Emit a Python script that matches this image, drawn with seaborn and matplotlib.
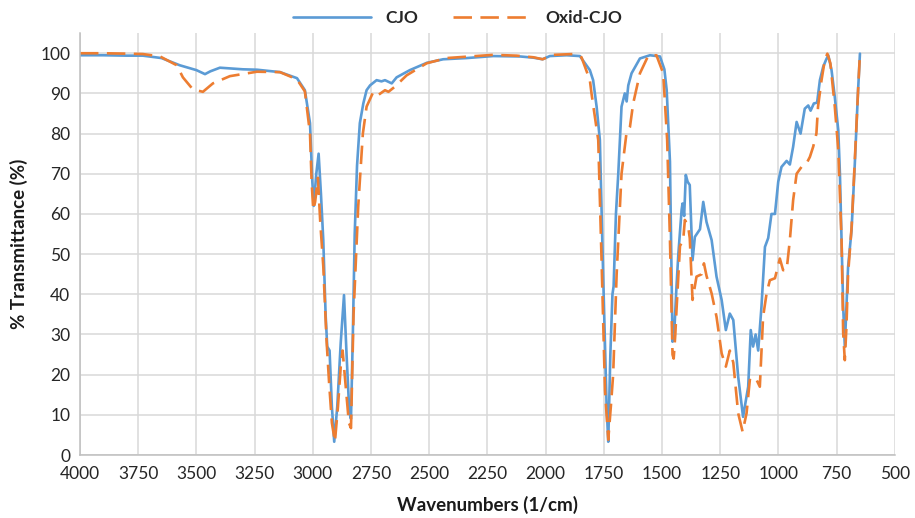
import pandas as pd
import numpy as np
import matplotlib
matplotlib.use("Agg")
import matplotlib.pyplot as plt
import seaborn as sns

# данные
cjo_wn = [4000, 3900, 3800, 3730, 3650, 3571, 3500, 3463, 3440, 3399, 3300, 3240,
          3141, 3068, 3034, 3012, 3002, 2996, 2985, 2975, 2965, 2955, 2945, 2938,
          2928, 2918, 2908, 2895, 2880, 2866, 2855, 2843, 2836, 2828, 2820, 2810,
          2798, 2783, 2769, 2754, 2726, 2705, 2690, 2661, 2640, 2583, 2511, 2440,
          2339, 2225, 2110, 2053, 2013, 1982, 1910, 1853, 1810, 1796, 1781, 1767,
          1753, 1738, 1731, 1722, 1713, 1708, 1698, 1688, 1674, 1660, 1652, 1645,
          1631, 1595, 1552, 1509, 1490, 1480, 1466, 1455, 1448, 1438, 1430, 1416,
          1412, 1405, 1398, 1390, 1381, 1369, 1359, 1337, 1323, 1309, 1287, 1266,
          1244, 1226, 1209, 1194, 1173, 1152, 1130, 1119, 1109, 1098, 1087, 1073,
          1058, 1044, 1030, 1015, 1001, 987, 965, 951, 937, 922, 905, 887, 872,
          862, 848, 834, 822, 808, 796, 786, 772, 758, 743, 736, 729, 722, 715,
          708, 701, 686, 672, 658, 650]
cjo_t = [99.5, 99.5, 99.4, 99.4, 98.8, 97.0, 95.8, 94.8, 95.5, 96.4, 96.0, 95.9,
         95.3, 93.8, 90.8, 82.6, 68.0, 62.0, 70.0, 75.0, 65.0, 53.5, 35.0, 27.0,
         26.0, 12.0, 3.3, 12.0, 28.0, 39.8, 25.0, 10.5, 9.0, 30.0, 55.0, 72.0,
         82.6, 87.5, 90.8, 92.0, 93.3, 93.0, 93.3, 92.5, 94.0, 95.8, 97.6, 98.5,
         98.8, 99.3, 99.2, 98.9, 98.5, 99.3, 99.5, 99.3, 95.8, 93.3, 86.7, 78.4,
         45.0, 12.0, 3.3, 25.0, 40.0, 42.0, 60.0, 70.0, 86.7, 90.0, 88.0, 92.0,
         95.0, 98.7, 99.5, 99.2, 96.0, 90.8, 73.0, 28.2, 30.0, 41.9, 50.0, 61.0,
         62.6, 59.5, 69.7, 68.0, 67.2, 48.5, 54.3, 56.2, 63.0, 58.0, 53.5, 44.4,
         38.6, 31.1, 35.2, 33.6, 19.5, 9.5, 17.0, 31.1, 27.0, 30.0, 26.0, 36.9,
         51.8, 54.0, 60.0, 60.0, 68.0, 71.7, 73.2, 72.3, 76.7, 82.9, 80.0, 86.2, 87.0,
         85.7, 87.5, 87.7, 93.3, 96.6, 98.3, 99.5, 95.8, 89.1, 80.8, 70.0, 53.5, 36.9, 27.0,
         36.9, 46.8, 56.0, 72.6, 90.8, 99.9]

oxid_wn = [4000, 3900, 3800, 3730, 3656, 3584, 3558, 3515, 3472, 3429, 3356, 3240,
           3141, 3068, 3034, 3012, 3005, 2998, 2990, 2978, 2968, 2955, 2941, 2930,
           2918, 2905, 2892, 2880, 2872, 2860, 2845, 2836, 2825, 2805, 2785, 2769,
           2740, 2719, 2690, 2675, 2647, 2597, 2511, 2425, 2326, 2225, 2125, 2053,
           2013, 1968, 1882, 1846, 1810, 1803, 1774, 1760, 1745, 1731, 1720, 1710,
           1695, 1674, 1653, 1638, 1624, 1595, 1560, 1524, 1495, 1478, 1466, 1455,
           1450, 1443, 1438, 1423, 1409, 1402, 1388, 1381, 1369, 1352, 1330, 1320,
           1309, 1287, 1266, 1244, 1226, 1209, 1194, 1173, 1154, 1137, 1123, 1109,
           1094, 1080, 1066, 1051, 1037, 1015, 994, 980, 965, 951, 937, 922, 901,
           880, 865, 851, 837, 830, 815, 801, 790, 777, 758, 743, 729, 722, 715,
           708, 701, 686, 672, 658, 650]
oxid_t = [100.0, 100.0, 99.9, 99.8, 99.2, 97.0, 94.0, 91.0, 90.4, 92.5, 94.3, 95.4,
          95.3, 93.5, 90.5, 80.0, 68.0, 61.0, 63.0, 69.0, 58.0, 47.0, 28.6, 18.0,
          8.0, 3.3, 12.0, 22.0, 26.0, 18.0, 8.0, 6.7, 35.0, 61.8, 80.0, 86.7,
          90.4, 89.6, 90.8, 90.4, 91.7, 94.5, 97.5, 98.8, 99.2, 99.6, 99.4, 99.0,
          98.5, 99.6, 99.8, 99.0, 93.3, 90.0, 78.4, 49.0, 16.0, 3.8, 12.0, 20.0,
          45.0, 70.0, 80.0, 81.6, 87.5, 95.0, 99.3, 99.5, 95.0, 78.4, 53.6, 25.0,
          24.0, 30.0, 36.0, 52.0, 53.6, 58.5, 57.0, 54.0, 38.6, 44.4, 45.0, 47.7,
          44.6, 40.2, 34.4, 25.3, 22.0, 26.0, 23.0, 10.4, 5.8, 10.4, 18.7, 18.0,
          18.7, 17.0, 34.4, 40.2, 43.5, 44.0, 48.9, 46.0, 46.0, 53.5, 63.4, 70.0, 71.7,
          72.5, 74.2, 76.7, 80.0, 86.7, 93.3, 98.3, 99.9, 97.5, 86.7, 75.9, 53.5, 30.3, 23.6,
          31.9, 45.0, 56.6, 73.4, 90.8, 99.9]

x_ticks = list(range(4000, 499, -250))
y_ticks = list(range(0, 101, 10))

# настройки
sns.set_theme(style="whitegrid")
plt.rcParams['font.family'] = ['Lato', 'DejaVu Sans']

df = pd.concat([
    pd.DataFrame({'wn': cjo_wn, 't': cjo_t, 'sample': 'CJO'}),
    pd.DataFrame({'wn': oxid_wn, 't': oxid_t, 'sample': 'Oxid-CJO'}),
])

fig, ax = plt.subplots(figsize=(9.15, 5.18), dpi=100)
fig.subplots_adjust(left=0.0874, right=0.978, bottom=0.1216, top=0.936)

sns.lineplot(data=df, x='wn', y='t', hue='sample', style='sample',
             palette={'CJO': '#5B9BD5', 'Oxid-CJO': '#ED7D31'},
             dashes={'CJO': '', 'Oxid-CJO': (7.0, 3.2)},
             estimator=None, sort=False, linewidth=1.9, ax=ax, legend=True)

ax.set_xlim(4000, 500)
ax.set_ylim(0, 105)
ax.set_xticks(x_ticks)
ax.set_yticks(y_ticks)
ax.tick_params(axis='both', labelsize=12.5, colors='#262626', length=0)
ax.tick_params(axis='x', pad=8)
ax.tick_params(axis='y', pad=7)
ax.grid(True, color='#d9d9d9', linewidth=1.1)
for s in ['top', 'right']:
    ax.spines[s].set_visible(False)
for s in ['left', 'bottom']:
    ax.spines[s].set_color('#bfbfbf')
    ax.spines[s].set_linewidth(1.1)

ax.set_xlabel("Wavenumbers (1/cm)", fontsize=13.5, fontweight='bold', color='#1a1a1a', labelpad=10)
ax.set_ylabel("% Transmittance (%)", fontsize=13.5, fontweight='bold', color='#1a1a1a', labelpad=9)

handles, labels = ax.get_legend_handles_labels()
ax.get_legend().remove()
leg = fig.legend(handles, labels, loc='upper center', bbox_to_anchor=(0.5, 1.01),
                 ncol=2, frameon=False, handlelength=4.5, columnspacing=2.0,
                 prop={'weight': 'bold', 'size': 12.5})
for h in leg.get_lines():
    h.set_linewidth(1.9)

plt.savefig("out.png", dpi=100)
